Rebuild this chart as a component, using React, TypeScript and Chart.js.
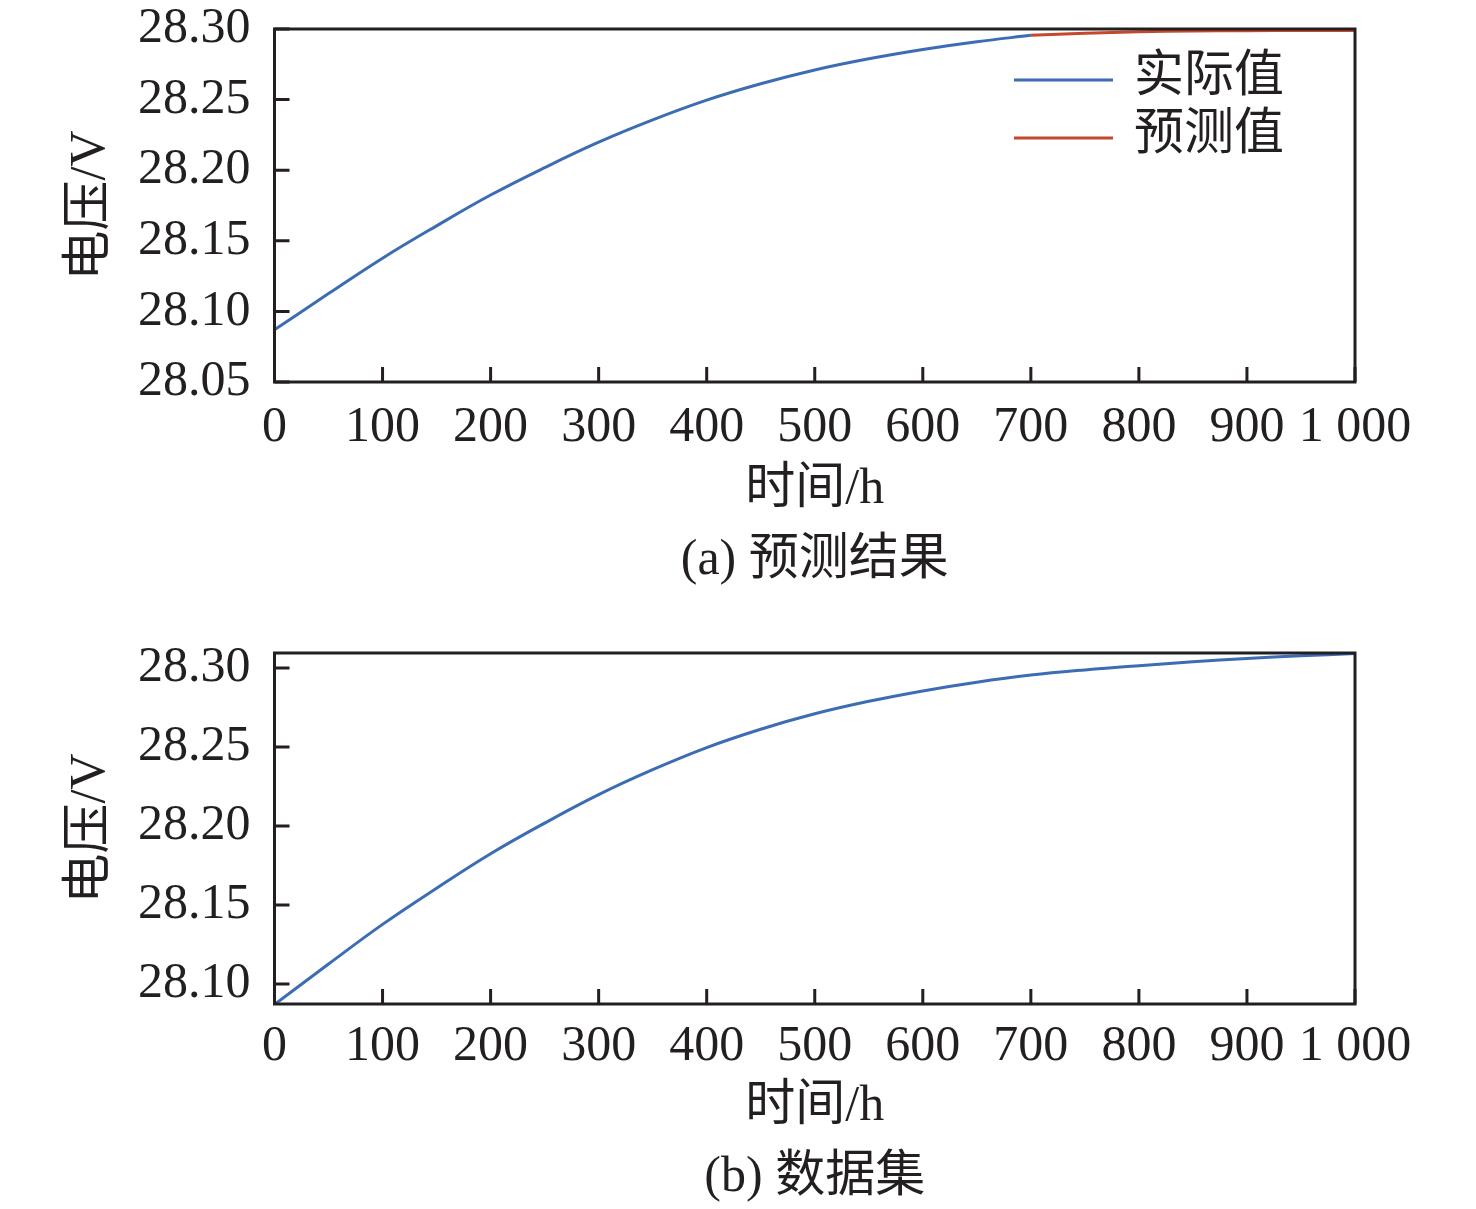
import { useEffect, useRef } from 'react';
import { Chart, registerables } from 'chart.js';

Chart.register(...registerables);

// values (time in h, voltage in V)
const timeH = [0, 50, 100, 150, 200, 250, 300, 350, 400, 450, 500, 550, 600, 650, 700, 750, 800, 850, 900, 950, 1000];
const voltageV = [
  28.087, 28.1126, 28.1377, 28.1606, 28.1824, 28.2018, 28.2198, 28.2356, 28.2496, 28.2612, 28.271,
  28.2789, 28.2855, 28.291, 28.2955, 28.2988, 28.3015, 28.3039, 28.306, 28.3077, 28.3092,
];
const splitH = 700;
const predTimeH = [700, 750, 800, 850, 900, 950, 1000];
const predVoltageV = [28.2955, 28.297, 28.298, 28.2986, 28.2988, 28.2989, 28.299];

const xTicks = [0, 100, 200, 300, 400, 500, 600, 700, 800, 900, 1000];
const xTickLabels = ['0', '100', '200', '300', '400', '500', '600', '700', '800', '900', '1 000'];
const yTicksA = [28.05, 28.1, 28.15, 28.2, 28.25, 28.3];
const yTicksB = [28.1, 28.15, 28.2, 28.25, 28.3];

const INK = '#231f20';
const BLUE = '#3c6db4';
const RED = '#c4492c';
const FAMILY = '"Liberation Serif", "Noto Sans CJK SC", serif';
const FONT = { family: FAMILY, size: 50, lineHeight: 1 };
const TICK_LEN = 15;

const toPoints = (xs: number[], ys: number[]) => xs.map((x, i) => ({ x, y: ys[i] }));

// box round the plot with ticks pointing inwards
const framePlugin = {
  id: 'frame',
  afterDatasetsDraw(chart: any) {
    const { ctx, chartArea: a, scales } = chart;
    ctx.save();
    ctx.strokeStyle = INK;
    ctx.lineWidth = 3;
    ctx.strokeRect(a.left, a.top, a.right - a.left, a.bottom - a.top);
    ctx.beginPath();
    scales.x.ticks.forEach((t: any) => {
      const px = scales.x.getPixelForValue(t.value);
      ctx.moveTo(px, a.bottom);
      ctx.lineTo(px, a.bottom - TICK_LEN);
    });
    scales.y.ticks.forEach((t: any) => {
      const py = scales.y.getPixelForValue(t.value);
      ctx.moveTo(a.left, py);
      ctx.lineTo(a.left + TICK_LEN, py);
    });
    ctx.stroke();
    ctx.restore();
  },
};

const legendPlugin = {
  id: 'cornerLegend',
  afterDraw(chart: any) {
    const { ctx, chartArea: a } = chart;
    ctx.save();
    ctx.font = `50px ${FAMILY}`;
    ctx.textBaseline = 'middle';
    chart.data.datasets.forEach((ds: any, i: number) => {
      const y = a.top + 51 + i * 58;
      ctx.strokeStyle = ds.borderColor;
      ctx.lineWidth = 3;
      ctx.beginPath();
      ctx.moveTo(a.right - 341, y);
      ctx.lineTo(a.right - 242, y);
      ctx.stroke();
      ctx.fillStyle = INK;
      ctx.fillText(ds.label, a.right - 221, y - 2);
    });
    ctx.restore();
  },
};

type PanelProps = {
  height: number;
  datasets: any[];
  yMin: number;
  yMax: number;
  yTicks: number[];
  padTop: number;
  padBottom: number;
  labelPad: number;
  axisHeight: number;
  captionPad: number;
  caption: string;
  legend?: boolean;
};

const Panel = (p: PanelProps) => {
  const canvasRef = useRef<HTMLCanvasElement>(null);

  useEffect(() => {
    if (!canvasRef.current) return;
    const chart = new Chart(canvasRef.current, {
      type: 'line',
      data: { datasets: p.datasets },
      options: {
        responsive: false,
        animation: false,
        events: [],
        layout: { padding: { top: p.padTop, right: 121, bottom: p.padBottom, left: 0 } },
        elements: {
          point: { radius: 0 },
          line: { borderWidth: 3, tension: 0.4 },
        },
        plugins: {
          legend: { display: false },
          tooltip: { enabled: false },
          title: {
            display: true,
            text: p.caption,
            position: 'bottom',
            fullSize: false,
            color: INK,
            font: { ...FONT, weight: 'normal' },
            padding: { top: p.captionPad, bottom: 0 },
          },
        },
        scales: {
          x: {
            type: 'linear',
            min: 0,
            max: 1000,
            grid: { display: false, drawTicks: false },
            border: { display: false },
            afterBuildTicks: (s: any) => {
              s.ticks = xTicks.map((v) => ({ value: v }));
            },
            afterFit: (s: any) => {
              s.height = p.axisHeight;
              s.paddingLeft = 0;
              s.paddingRight = 0;
            },
            ticks: {
              autoSkip: false,
              maxRotation: 0,
              padding: p.labelPad,
              color: INK,
              font: FONT,
              callback: (v: any) => xTickLabels[xTicks.indexOf(Number(v))] ?? '',
            },
            title: { display: true, text: '时间/h', color: INK, font: FONT, padding: 0 },
          },
          y: {
            type: 'linear',
            min: p.yMin,
            max: p.yMax,
            grid: { display: false, drawTicks: false },
            border: { display: false },
            afterBuildTicks: (s: any) => {
              s.ticks = p.yTicks.map((v) => ({ value: v }));
            },
            afterFit: (s: any) => {
              s.width = 274.5;
              s.paddingTop = 0;
              s.paddingBottom = 0;
            },
            ticks: {
              autoSkip: false,
              padding: 24,
              color: INK,
              font: FONT,
              callback: (v: any) => Number(v).toFixed(2),
            },
            title: { display: true, text: '电压/V', color: INK, font: FONT, padding: { top: 66, bottom: 0 } },
          },
        },
      } as any,
      plugins: p.legend ? [framePlugin, legendPlugin] : [framePlugin],
    });
    return () => chart.destroy();
  }, []);

  return <canvas ref={canvasRef} width={1476} height={p.height} style={{ display: 'block' }} />;
};

const App = () => {
  const actualA = toPoints(
    timeH.filter((t) => t <= splitH),
    voltageV.filter((_, i) => timeH[i] <= splitH),
  );
  const predA = toPoints(predTimeH, predVoltageV);
  const fullB = toPoints(timeH, voltageV);

  return (
    <div style={{ position: 'absolute', left: 0, top: 0, width: 1476, height: 1209, background: '#fff' }}>
      <Panel
        height={600}
        datasets={[
          { label: '实际值', data: actualA, borderColor: BLUE, backgroundColor: BLUE },
          { label: '预测值', data: predA, borderColor: RED, backgroundColor: RED },
        ]}
        yMin={28.05}
        yMax={28.3}
        yTicks={yTicksA}
        padTop={29}
        padBottom={14}
        labelPad={21}
        axisHeight={133}
        captionPad={21}
        caption="(a) 预测结果"
        legend
      />
      <Panel
        height={609}
        datasets={[{ label: '数据集', data: fullB, borderColor: BLUE, backgroundColor: BLUE }]}
        yMin={28.0873}
        yMax={28.3095}
        yTicks={yTicksB}
        padTop={53}
        padBottom={6}
        labelPad={18}
        axisHeight={128}
        captionPad={21}
        caption="(b) 数据集"
      />
    </div>
  );
};

export default App;
